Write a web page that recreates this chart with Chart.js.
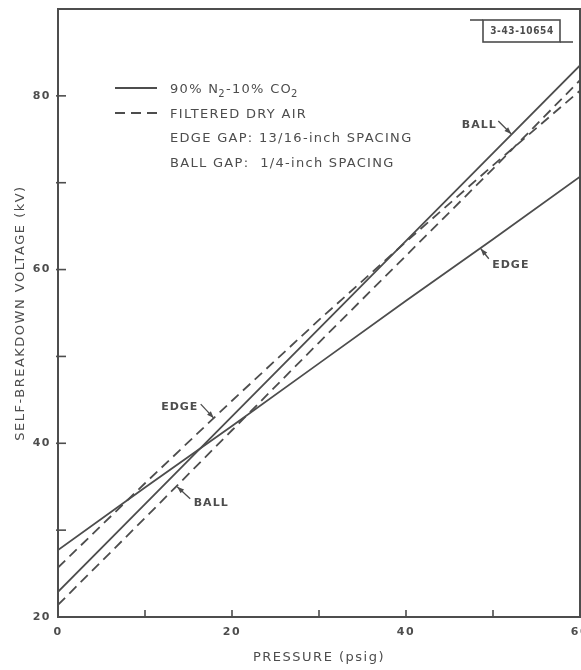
<!DOCTYPE html>
<html><head><meta charset="utf-8">
<script src="https://cdn.jsdelivr.net/npm/chart.js@4"></script>
<style>html,body{margin:0;padding:0;background:#fff;}canvas{display:block;}</style>
</head><body>
<canvas id="c" width="581" height="670"></canvas>
<script>
// ---- data ----
const pressure   = [0, 10, 20, 30, 40, 50, 60];
const n2co2Edge  = [27.7, 34.9, 42.0, 49.2, 56.4, 63.5, 70.7];
const n2co2Ball  = [22.9, 33.0, 43.1, 53.2, 63.3, 73.4, 83.5];
const airEdge    = [25.7, 35.4, 44.9, 54.2, 63.2, 72.0, 80.6];
const airBall    = [21.4, 31.4, 41.5, 51.6, 61.6, 71.6, 81.8];
const xTickLabels = {0: '0', 20: '20', 40: '40', 60: '60'};
const yTickLabels = {20: '20', 40: '40', 60: '60', 80: '80'};
const xTitle = 'PRESSURE (psig)';
const yTitle = 'SELF-BREAKDOWN VOLTAGE (kV)';
const legendGas = ['90% N', '2', '-10% CO', '2'];
const legendAir = 'FILTERED DRY AIR';
const legendEdgeGap = 'EDGE GAP: 13/16-inch SPACING';
const legendBallGap = 'BALL GAP:  1/4-inch SPACING';
const figureId = '3-43-10654';
// annotation labels: text and arrow target (data coordinates)
const annLabels = ['EDGE', 'BALL', 'EDGE', 'BALL'];
const annTargetX = [17.9, 13.7, 48.6, 52.1];
const annTargetY = [42.9, 35.0, 62.4, 75.6];

const INK = '#4d4d4d';
const toXY = (xs, ys) => xs.map((x, i) => ({x, y: ys[i]}));

// text offset and arrow-tail offset, in pixels from the arrow tip
const annStyle = [
  {dx: -34, dy: -11, ax: -13, ay: -14},
  {dx: 34, dy: 16, ax: 13, ay: 12},
  {dx: 30, dy: 16, ax: 8, ay: 10},
  {dx: -32, dy: -9, ax: -13, ay: -13}
];

function arrow(ctx, x0, y0, x1, y1) {
  ctx.beginPath(); ctx.moveTo(x0, y0); ctx.lineTo(x1, y1); ctx.stroke();
  const a = Math.atan2(y1 - y0, x1 - x0), L = 7, W = 2.6;
  ctx.beginPath();
  ctx.moveTo(x1, y1);
  ctx.lineTo(x1 - L * Math.cos(a) + W * Math.sin(a), y1 - L * Math.sin(a) - W * Math.cos(a));
  ctx.lineTo(x1 - L * Math.cos(a) - W * Math.sin(a), y1 - L * Math.sin(a) + W * Math.cos(a));
  ctx.closePath(); ctx.fill();
}

const decor = {
  id: 'decor',
  beforeDraw(chart) { chart.ctx.letterSpacing = '1.5px'; },
  afterDraw(chart) {
    const {ctx, chartArea: ca, scales: {x, y}} = chart;
    ctx.save();
    ctx.strokeStyle = INK; ctx.fillStyle = INK;
    // frame
    ctx.lineWidth = 2;
    ctx.strokeRect(ca.left, ca.top, ca.right - ca.left, ca.bottom - ca.top);
    // inward ticks
    ctx.lineWidth = 1.6;
    x.ticks.forEach(t => {
      if (t.value <= x.min || t.value >= x.max) return;
      const px = x.getPixelForValue(t.value);
      ctx.beginPath(); ctx.moveTo(px, ca.bottom); ctx.lineTo(px, ca.bottom - 7); ctx.stroke();
    });
    y.ticks.forEach(t => {
      if (t.value <= y.min || t.value >= y.max) return;
      const py = y.getPixelForValue(t.value);
      ctx.beginPath(); ctx.moveTo(ca.left - 2, py); ctx.lineTo(ca.left + 8, py); ctx.stroke();
    });
    // legend
    ctx.lineWidth = 1.8;
    ctx.beginPath(); ctx.moveTo(115, 88); ctx.lineTo(157, 88); ctx.stroke();
    ctx.setLineDash([10, 6]);
    ctx.beginPath(); ctx.moveTo(115, 113); ctx.lineTo(157, 113); ctx.stroke();
    ctx.setLineDash([]);
    ctx.letterSpacing = '1.3px';
    ctx.font = '13px "DejaVu Sans"';
    ctx.textBaseline = 'alphabetic'; ctx.textAlign = 'left';
    let cx = 170;
    ctx.fillText(legendGas[0], cx, 93); cx += ctx.measureText(legendGas[0]).width;
    ctx.font = '10px "DejaVu Sans"';
    ctx.fillText(legendGas[1], cx - 1, 97); cx += ctx.measureText(legendGas[1]).width - 1;
    ctx.font = '13px "DejaVu Sans"';
    ctx.fillText(legendGas[2], cx, 93); cx += ctx.measureText(legendGas[2]).width;
    ctx.font = '10px "DejaVu Sans"';
    ctx.fillText(legendGas[3], cx - 1, 97);
    ctx.font = '13px "DejaVu Sans"';
    ctx.fillText(legendAir, 170, 118);
    ctx.fillText(legendEdgeGap, 170, 142);
    ctx.fillText(legendBallGap, 170, 167);
    // annotations
    ctx.font = 'bold 11px "DejaVu Sans"';
    ctx.letterSpacing = '1px';
    ctx.textAlign = 'center'; ctx.textBaseline = 'middle';
    ctx.lineWidth = 1.3;
    annLabels.forEach((txt, i) => {
      const tx = x.getPixelForValue(annTargetX[i]);
      const ty = y.getPixelForValue(annTargetY[i]);
      const s = annStyle[i];
      ctx.fillText(txt, tx + s.dx, ty + s.dy);
      arrow(ctx, tx + s.ax, ty + s.ay, tx, ty);
    });
    // figure id box
    ctx.lineWidth = 1.6;
    ctx.strokeRect(483, 20, 77, 22);
    ctx.beginPath(); ctx.moveTo(470, 20); ctx.lineTo(483, 20); ctx.stroke();
    ctx.beginPath(); ctx.moveTo(560, 42); ctx.lineTo(573, 42); ctx.stroke();
    ctx.font = 'bold 10px "DejaVu Sans Condensed", "DejaVu Sans"';
    ctx.letterSpacing = '0.6px';
    ctx.fillText(figureId, 522, 31);
    ctx.restore();
  }
};

new Chart(document.getElementById('c'), {
  type: 'line',
  data: {
    datasets: [
      {label: 'N2-CO2 edge', data: toXY(pressure, n2co2Edge), borderColor: INK, borderWidth: 1.8, pointRadius: 0, fill: false},
      {label: 'N2-CO2 ball', data: toXY(pressure, n2co2Ball), borderColor: INK, borderWidth: 1.8, pointRadius: 0, fill: false},
      {label: 'Air edge', data: toXY(pressure, airEdge), borderColor: INK, borderWidth: 1.8, borderDash: [10, 6], pointRadius: 0, fill: false},
      {label: 'Air ball', data: toXY(pressure, airBall), borderColor: INK, borderWidth: 1.8, borderDash: [10, 6], pointRadius: 0, fill: false}
    ]
  },
  options: {
    responsive: false,
    animation: false,
    events: [],
    layout: {padding: {top: 9, right: 1, left: 0, bottom: 0}},
    plugins: {legend: {display: false}, tooltip: {enabled: false}},
    scales: {
      x: {
        type: 'linear', min: 0, max: 60,
        grid: {display: false, drawTicks: false},
        border: {display: false},
        ticks: {stepSize: 10, padding: 9, color: INK, autoSkip: false, maxRotation: 0,
          font: {family: 'DejaVu Sans', size: 11, weight: 'bold'},
          callback: v => xTickLabels[v] ?? ''},
        title: {display: true, text: xTitle, color: INK, padding: {top: 0, bottom: 5},
          font: {family: 'DejaVu Sans', size: 13}},
        afterFit: s => { s.height = 53; s.paddingLeft = 0; s.paddingRight = 0; }
      },
      y: {
        type: 'linear', min: 20, max: 90,
        grid: {display: false, drawTicks: false},
        border: {display: false},
        ticks: {stepSize: 10, padding: 7, color: INK, autoSkip: false,
          font: {family: 'DejaVu Sans', size: 11, weight: 'bold'},
          callback: v => yTickLabels[v] ?? ''},
        title: {display: true, text: yTitle, color: INK, padding: {top: 13, bottom: 0},
          font: {family: 'DejaVu Sans', size: 13}},
        afterFit: s => { s.width = 58; s.paddingTop = 0; s.paddingBottom = 0; }
      }
    }
  },
  plugins: [decor]
});
</script>
</body></html>
